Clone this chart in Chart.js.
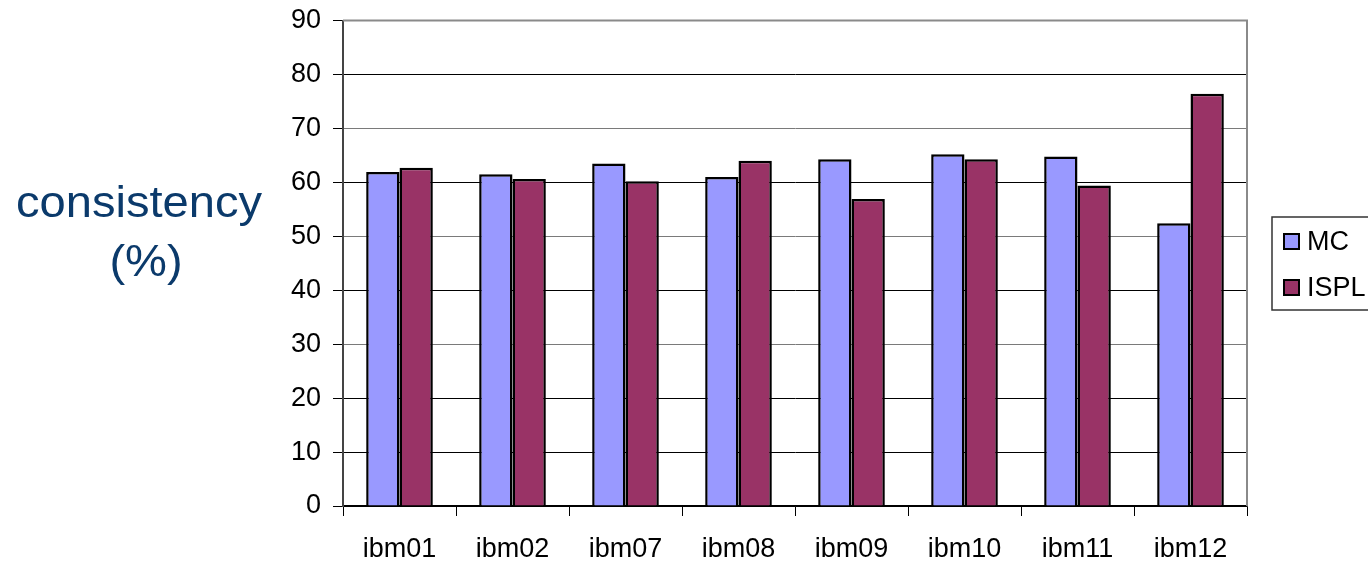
<!DOCTYPE html>
<html>
<head>
<meta charset="utf-8">
<script src="https://cdn.jsdelivr.net/npm/chart.js@4.4.0/dist/chart.umd.min.js"></script>
<style>
  html, body { margin: 0; padding: 0; background: #fff; overflow: hidden; }
  #wrap { width: 1368px; height: 561px; position: relative; }
</style>
</head>
<body>
<div id="wrap"><canvas id="c" width="1368" height="561"></canvas></div>
<script>
// Benchmarks and consistency (%) per method
const categories = ['ibm01', 'ibm02', 'ibm07', 'ibm08', 'ibm09', 'ibm10', 'ibm11', 'ibm12'];
const mcValues   = [61.9, 61.5, 63.5, 61.0, 64.3, 65.2, 64.8, 52.4];
const isplValues = [62.7, 60.6, 60.2, 64.0, 56.9, 64.3, 59.4, 76.4];
const seriesNames = ['MC', 'ISPL'];
const yTicks = [0, 10, 20, 30, 40, 50, 60, 70, 80, 90];
const yTitleLines = ['consistency', '(%)'];

const FONT = '"Liberation Sans", Arial, sans-serif';

// Y-axis title drawn as two centred lines left of the axis
const yTitlePlugin = {
  id: 'yTitle',
  afterDraw(chart) {
    const ctx = chart.ctx;
    ctx.save();
    ctx.fillStyle = '#0b3a6b';
    ctx.font = '44px ' + FONT;
    ctx.textAlign = 'center';
    ctx.textBaseline = 'alphabetic';
    const spots = [[139, 217], [146, 276]];
    yTitleLines.forEach((t, i) => {
      ctx.save();
      ctx.translate(spots[i][0], spots[i][1]);
      ctx.scale(1.07, 1);
      ctx.fillText(t, 0, 0);
      ctx.restore();
    });
    ctx.restore();
  }
};

// Plot frame (top and right edges) and boxed legend on the right
const framePlugin = {
  id: 'frame',
  afterDraw(chart) {
    const ctx = chart.ctx;
    const a = chart.chartArea;
    ctx.save();
    ctx.strokeStyle = '#8a8a8a';
    ctx.lineWidth = 2;
    ctx.beginPath();
    ctx.moveTo(a.left, a.top);
    ctx.lineTo(a.right, a.top);
    ctx.lineTo(a.right, a.bottom);
    ctx.stroke();

    // legend
    ctx.strokeStyle = '#333';
    ctx.lineWidth = 1.5;
    ctx.strokeRect(1272, 217, 140, 93);
    ctx.font = '27px ' + FONT;
    ctx.textAlign = 'left';
    ctx.textBaseline = 'middle';
    const rows = [242, 288];
    chart.data.datasets.forEach((ds, i) => {
      const y = rows[i];
      ctx.fillStyle = ds.backgroundColor;
      ctx.fillRect(1284, y - 8, 15, 15);
      ctx.strokeStyle = '#000';
      ctx.lineWidth = 2;
      ctx.strokeRect(1284, y - 8, 15, 15);
      ctx.fillStyle = '#000';
      ctx.fillText(ds.label, 1307, y + 1);
    });
    ctx.restore();
  }
};

new Chart(document.getElementById('c'), {
  type: 'bar',
  data: {
    labels: categories,
    datasets: [
      { label: seriesNames[0], data: mcValues, backgroundColor: '#9999ff', borderColor: '#000', borderWidth: 2.5 },
      { label: seriesNames[1], data: isplValues, backgroundColor: '#993366', borderColor: '#000', borderWidth: 2.5 }
    ]
  },
  options: {
    responsive: false,
    animation: false,
    layout: { padding: { left: 0, right: 121, top: 20.5, bottom: 0 } },
    datasets: { bar: { categoryPercentage: 0.59, barPercentage: 1.0 } },
    plugins: { legend: { display: false }, tooltip: { enabled: false } },
    scales: {
      x: {
        afterFit(scale) { scale.height = 55; scale.paddingLeft = 0; scale.paddingRight = 0; },
        grid: { offset: true, drawOnChartArea: false, drawTicks: true, tickLength: 10, color: '#000', lineWidth: 1 },
        border: { display: true, color: '#000', width: 1.5 },
        ticks: { color: '#000', font: { family: FONT, size: 27 }, padding: 17 }
      },
      y: {
        min: 0,
        max: 90,
        afterFit(scale) { scale.width = 343; scale.paddingTop = 0; scale.paddingBottom = 0; },
        afterBuildTicks(scale) { scale.ticks = yTicks.map(v => ({ value: v })); },
        grid: {
          color: (c) => (c.tick && [30, 50, 70, 90].includes(c.tick.value)) ? '#7a7a7a' : '#000',
          tickColor: '#000',
          lineWidth: 1,
          tickLength: 10
        },
        border: { display: true, color: '#444', width: 2 },
        ticks: { color: '#000', font: { family: FONT, size: 27 }, padding: 12 }
      }
    }
  },
  plugins: [yTitlePlugin, framePlugin]
});
</script>
</body>
</html>
